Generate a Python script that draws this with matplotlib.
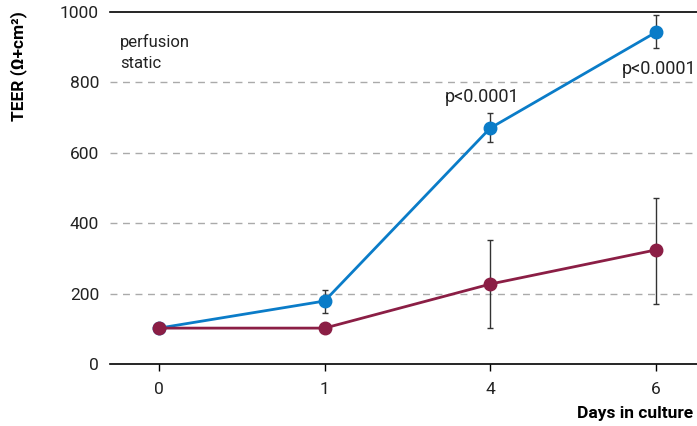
import matplotlib
matplotlib.use('Agg')
import matplotlib.pyplot as plt
import numpy as np

plt.rcParams['font.family'] = ['Roboto', 'DejaVu Sans']

perfusion_blue = (10/255, 124/255, 200/255)
static_purple = (139/255, 30/255, 69/255)

days = ['0', '1', '4', '6']
perfusion = [102, 179, 670, 942]
perfusion_lo = [102, 145, 630, 898]
perfusion_hi = [102, 210, 713, 991]
static = [102, 102, 227, 324]
static_lo = [102, 102, 102, 170]
static_hi = [102, 102, 352, 472]
p_labels = ['', '', 'p<0.0001', 'p<0.0001']
p_heights = [0, 0, 758, 838]

x = np.arange(len(days))

fig = plt.figure(figsize=(6.97, 4.26), dpi=100)
ax = fig.add_axes([0.158, 0.1455, 0.842, 0.8263])

for yv in [200, 400, 600, 800]:
    ax.axhline(yv, color='#aaaaaa', lw=1, ls=(0, (5, 4)), zorder=0)


def draw(vals, lo, hi, color):
    vals = np.array(vals)
    err = [vals - np.array(lo), np.array(hi) - vals]
    ax.errorbar(x, vals, yerr=err, fmt='none', ecolor='#333333', elinewidth=1,
                capsize=2.5, capthick=1, zorder=2)
    ax.plot(x, vals, color=color, lw=2, marker='o', markersize=9, zorder=3)


draw(perfusion, perfusion_lo, perfusion_hi, perfusion_blue)
draw(static, static_lo, static_hi, static_purple)

for i, lab in enumerate(p_labels):
    if lab:
        xo = -0.05 if i == 2 else 0.02
        ax.text(x[i] + xo, p_heights[i], lab, ha='center', va='center',
                fontsize=13, color='#222222')

ax.text(0.017, 0.915, 'perfusion', transform=ax.transAxes, fontsize=12,
        color='#222222', va='center')
ax.text(0.017, 0.855, 'static', transform=ax.transAxes, fontsize=12,
        color='#222222', va='center')

ax.set_xlim(-0.296, 3.25)
ax.set_ylim(0, 1000)
ax.set_xticks(x)
ax.set_xticklabels(days)
ax.set_yticks([0, 200, 400, 600, 800, 1000])
ax.tick_params(axis='y', length=0, pad=8, labelsize=12.5, colors='#222222')
ax.tick_params(axis='x', length=5, width=1, pad=8, labelsize=12.5, colors='#222222')
ax.tick_params(axis='x', color='black')

for s in ['left', 'right']:
    ax.spines[s].set_visible(False)
ax.spines['top'].set_linewidth(1.2)
ax.spines['bottom'].set_linewidth(1.2)

fig.text(0.026, 0.845, 'TEER (\u03a9+cm\u00b2)', rotation=90, ha='center',
         va='center', fontsize=12.5, fontweight='bold')
fig.text(0.994, 0.03, 'Days in culture', ha='right', va='center',
         fontsize=12.5, fontweight='bold')

plt.savefig('out.png', dpi=100)
